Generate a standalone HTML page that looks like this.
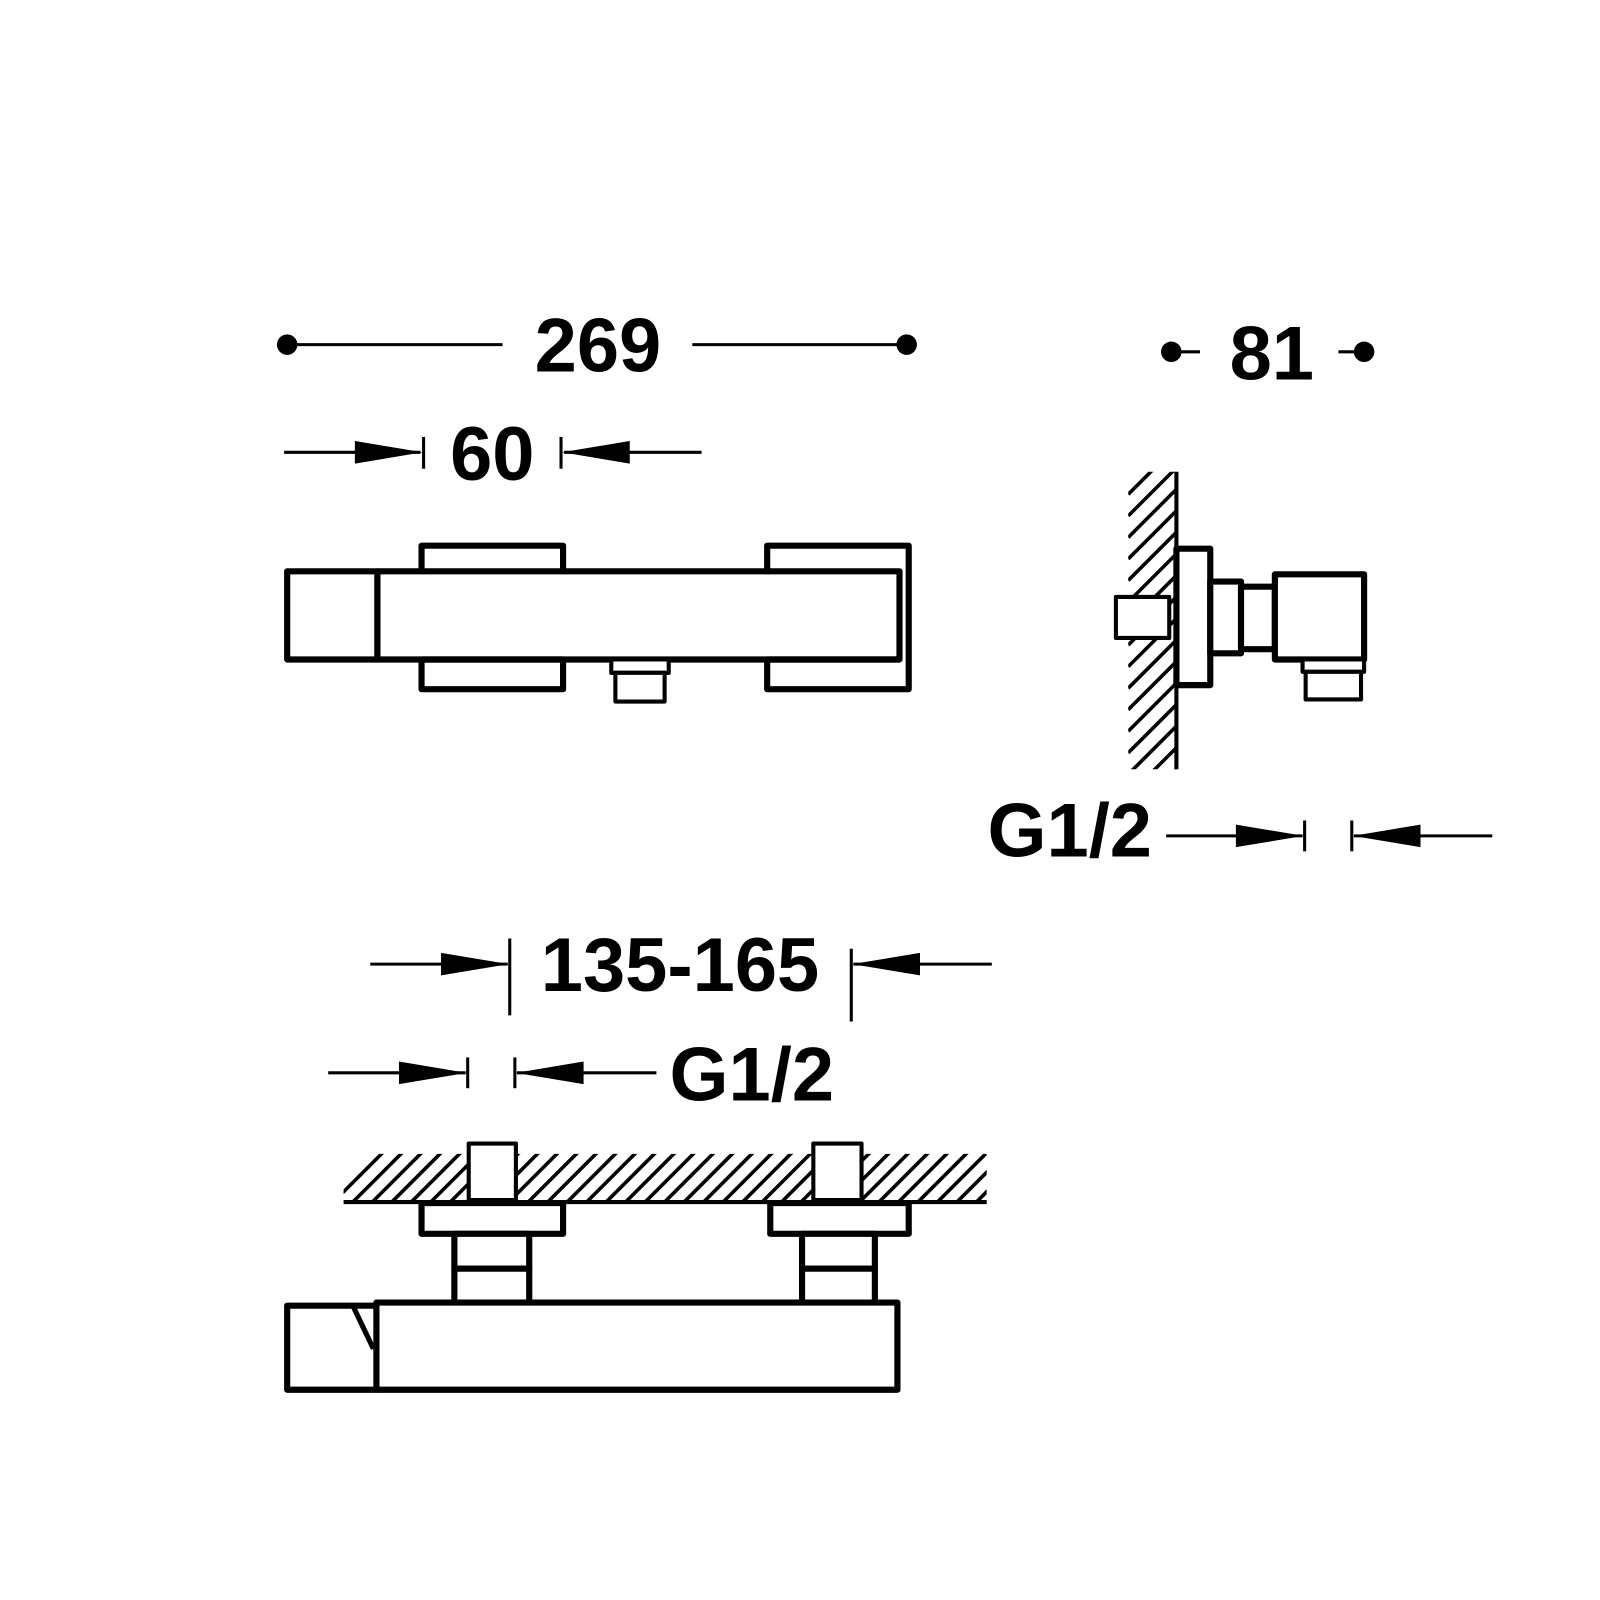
<!DOCTYPE html>
<html><head><meta charset="utf-8"><style>
html,body{margin:0;padding:0;background:#fff;}
svg{display:block;}
text{font-family:"Liberation Sans",Arial,sans-serif;font-weight:bold;fill:#000;}
</style></head><body>
<svg width="1600" height="1600" viewBox="0 0 1560 1560" xmlns="http://www.w3.org/2000/svg">
<defs>
<clipPath id="c1"><rect x="1100" y="460" width="47" height="290"/></clipPath>
<clipPath id="c2"><rect x="335" y="1125" width="627" height="47"/></clipPath>
</defs>
<rect width="1560" height="1560" fill="#fff"/>

<!-- 269 -->
<g stroke="#000" stroke-width="3">
<line x1="280" y1="336" x2="490" y2="336"/>
<line x1="675" y1="336" x2="884" y2="336"/>
</g>
<circle cx="280" cy="336" r="10"/><circle cx="884" cy="336" r="10"/>
<text x="583" y="362" font-size="74" text-anchor="middle">269</text>

<!-- 60 -->
<g stroke="#000" stroke-width="3">
<line x1="277" y1="441" x2="410" y2="441"/>
<line x1="413" y1="426" x2="413" y2="457"/>
<line x1="547" y1="426" x2="547" y2="457"/>
<line x1="550" y1="441" x2="684" y2="441"/>
</g>
<polygon points="346,430 412,441 346,452"/>
<polygon points="614,430 548,441 614,452"/>
<text x="480" y="468" font-size="74" text-anchor="middle">60</text>

<!-- top view -->
<g fill="#fff" stroke="#000" stroke-width="6" stroke-linejoin="round">
<rect x="411" y="532" width="138" height="140"/>
<path d="M748 672 V532 H886 V672 Z"/>
<rect x="280" y="557" width="88" height="86"/>
<rect x="368" y="557" width="509" height="86"/>
<rect x="596" y="643" width="56" height="13" stroke-width="4"/>
<rect x="600" y="656" width="48" height="28" stroke-width="4"/>
</g>
<g fill="none" stroke="#000" stroke-width="6">
<line x1="411" y1="643" x2="549" y2="643"/>
<line x1="748" y1="643" x2="877" y2="643"/>
</g>

<!-- side view -->
<g clip-path="url(#c1)" stroke="#000" stroke-width="3.5">
<path d="M1100 482 l60 -60 M1100 503 l60 -60 M1100 524 l60 -60 M1100 545 l60 -60 M1100 566 l60 -60 M1100 587 l60 -60 M1100 608 l60 -60 M1100 629 l60 -60 M1100 650 l60 -60 M1100 671 l60 -60 M1100 692 l60 -60 M1100 713 l60 -60 M1100 734 l60 -60 M1100 755 l60 -60 M1100 776 l60 -60 M1100 797 l60 -60"/>
</g>
<line x1="1147" y1="460" x2="1147" y2="750" stroke="#000" stroke-width="4"/>
<g fill="#fff" stroke="#000" stroke-width="6" stroke-linejoin="round">
<rect x="1088" y="582" width="52" height="40" stroke-width="4"/>
<rect x="1147" y="535" width="33" height="133"/>
<rect x="1180" y="567" width="30" height="70"/>
<rect x="1210" y="572" width="33" height="61"/>
<rect x="1243" y="560" width="87" height="83"/>
<rect x="1270" y="643" width="60" height="12" stroke-width="4"/>
<rect x="1273" y="655" width="54" height="27" stroke-width="4"/>
</g>

<!-- 81 -->
<g stroke="#000" stroke-width="3">
<line x1="1140" y1="343" x2="1170" y2="343"/>
<line x1="1305" y1="343" x2="1330" y2="343"/>
</g>
<circle cx="1142" cy="343" r="10"/><circle cx="1330" cy="343" r="10"/>
<text x="1240" y="370" font-size="74" text-anchor="middle">81</text>

<!-- G1/2 right -->
<text x="1043" y="835" font-size="74" text-anchor="middle">G1/2</text>
<g stroke="#000" stroke-width="3">
<line x1="1137" y1="815" x2="1270" y2="815"/>
<line x1="1272" y1="800" x2="1272" y2="830"/>
<line x1="1318" y1="800" x2="1318" y2="830"/>
<line x1="1320" y1="815" x2="1455" y2="815"/>
</g>
<polygon points="1205,804 1271,815 1205,826"/>
<polygon points="1385,804 1319,815 1385,826"/>

<!-- 135-165 -->
<text x="663" y="966" font-size="74" text-anchor="middle">135-165</text>
<g stroke="#000" stroke-width="3">
<line x1="361" y1="940" x2="495" y2="940"/>
<line x1="497" y1="915" x2="497" y2="990"/>
<line x1="830" y1="925" x2="830" y2="996"/>
<line x1="832" y1="940" x2="967" y2="940"/>
</g>
<polygon points="430,929 496,940 430,951"/>
<polygon points="897,929 831,940 897,951"/>

<!-- G1/2 bottom -->
<g stroke="#000" stroke-width="3">
<line x1="320" y1="1046" x2="454" y2="1046"/>
<line x1="456" y1="1031" x2="456" y2="1061"/>
<line x1="502" y1="1031" x2="502" y2="1061"/>
<line x1="504" y1="1046" x2="640" y2="1046"/>
</g>
<polygon points="389,1035 455,1046 389,1057"/>
<polygon points="569,1035 503,1046 569,1057"/>
<text x="733" y="1073" font-size="74" text-anchor="middle">G1/2</text>

<!-- bottom view -->
<g clip-path="url(#c2)" stroke="#000" stroke-width="3.5">
<path d="M322 1175 l60 -60 M341 1175 l60 -60 M360 1175 l60 -60 M379 1175 l60 -60 M398 1175 l60 -60 M417 1175 l60 -60 M436 1175 l60 -60 M455 1175 l60 -60 M474 1175 l60 -60 M493 1175 l60 -60 M512 1175 l60 -60 M531 1175 l60 -60 M550 1175 l60 -60 M569 1175 l60 -60 M588 1175 l60 -60 M607 1175 l60 -60 M626 1175 l60 -60 M645 1175 l60 -60 M664 1175 l60 -60 M683 1175 l60 -60 M702 1175 l60 -60 M721 1175 l60 -60 M740 1175 l60 -60 M759 1175 l60 -60 M778 1175 l60 -60 M797 1175 l60 -60 M816 1175 l60 -60 M835 1175 l60 -60 M854 1175 l60 -60 M873 1175 l60 -60 M892 1175 l60 -60 M911 1175 l60 -60 M930 1175 l60 -60 M949 1175 l60 -60"/>
</g>
<line x1="335" y1="1172" x2="962" y2="1172" stroke="#000" stroke-width="4"/>
<g fill="#fff" stroke="#000" stroke-width="4" stroke-linejoin="round">
<rect x="457" y="1115" width="46" height="55"/>
<rect x="793" y="1115" width="47" height="55"/>
</g>
<g fill="#fff" stroke="#000" stroke-width="6" stroke-linejoin="round">
<rect x="411" y="1173" width="138" height="30"/>
<rect x="751" y="1173" width="135" height="30"/>
<rect x="443" y="1203" width="73" height="34"/>
<rect x="443" y="1237" width="73" height="33"/>
<rect x="782" y="1203" width="71" height="34"/>
<rect x="782" y="1237" width="71" height="33"/>
<rect x="367" y="1270" width="508" height="85"/>
<rect x="280" y="1273" width="87" height="82"/>
</g>
<polyline points="344,1273 364,1315" fill="none" stroke="#000" stroke-width="5"/>
</svg>
</body></html>
